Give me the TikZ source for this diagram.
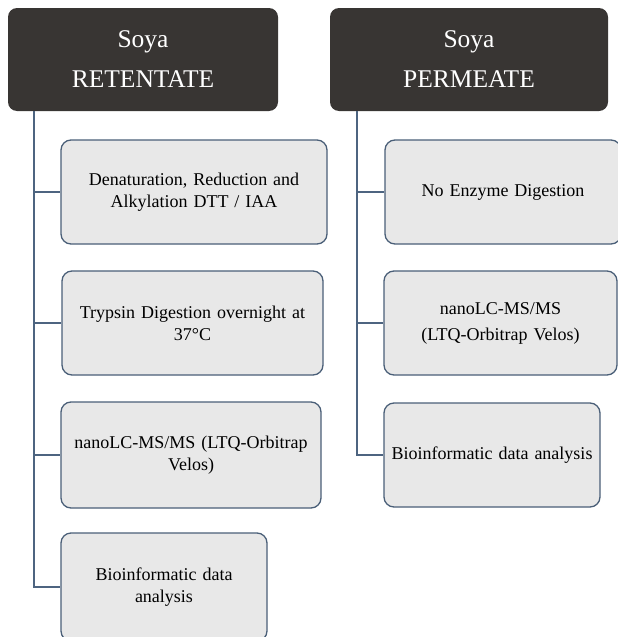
\documentclass[tikz,border=0pt]{standalone}
\usepackage{fontspec}
\setmainfont{Liberation Serif}
\definecolor{hdr}{HTML}{383533}
\definecolor{boxfill}{HTML}{E8E8E8}
\definecolor{boxline}{HTML}{4A5F78}
\definecolor{conn}{HTML}{4D6480}
\begin{document}
\begin{tikzpicture}[x=1pt,y=-1pt,
  header/.style={fill=hdr,draw=none,rounded corners=9pt,text=white,align=center,
    font=\fontsize{25.5}{40}\selectfont,inner sep=0pt},
  stepbox/.style={fill=boxfill,draw=boxline,line width=1.3pt,rounded corners=10pt,
    align=center,font=\fontsize{18}{22}\selectfont,inner sep=0pt,text width=#1},
  conline/.style={draw=conn,line width=2pt}]
\useasboundingbox (0,0) rectangle (618,637);
\clip (0,0) rectangle (618,637);
% headers
\node[header,minimum width=270pt,minimum height=103pt] (LH) at (143,59.5) {Soya\\RETENTATE};
\node[header,minimum width=278pt,minimum height=103pt] (RH) at (469,59.5) {Soya\\PERMEATE};
% left column
\node[stepbox=250pt,minimum width=266pt,minimum height=104pt] (L1) at (194,192) {Denaturation, Reduction and\\Alkylation DTT / IAA};
\node[stepbox=255pt,minimum width=261pt,minimum height=104pt] (L2) at (192.5,323) {Trypsin Digestion overnight at\\37°C};
\node[stepbox=255pt,minimum width=260pt,minimum height=106pt] (L3) at (191,455) {nanoLC-MS/MS (LTQ-Orbitrap\\Velos)};
\node[stepbox=195pt,minimum width=206pt,minimum height=108pt] (L4) at (164,587) {Bioinformatic data\\analysis};
% right column
\node[stepbox=225pt,minimum width=236pt,minimum height=104pt] (R1) at (503,192) {No Enzyme Digestion};
\node[stepbox=225pt,minimum width=233pt,minimum height=104pt] (R2) at (500.5,323) {nanoLC-MS/MS\\[4pt](LTQ-Orbitrap Velos)};
\node[stepbox=212pt,minimum width=216pt,minimum height=104pt] (R3) at (492,455) {Bioinformatic data analysis};
% connectors
\coordinate (lt) at (34,111);
\coordinate (rt) at (357,111);
\path[conline] (lt) |- (L4.west);
\path[conline] (lt |- L1.west) -- (L1.west);
\path[conline] (lt |- L2.west) -- (L2.west);
\path[conline] (lt |- L3.west) -- (L3.west);
\path[conline] (rt) |- (R3.west);
\path[conline] (rt |- R1.west) -- (R1.west);
\path[conline] (rt |- R2.west) -- (R2.west);
\end{tikzpicture}
\end{document}
